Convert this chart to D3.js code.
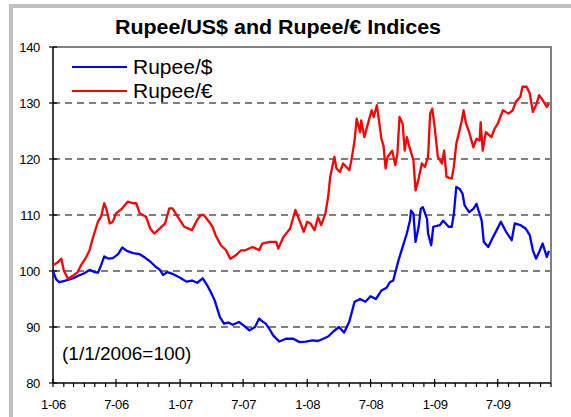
<!DOCTYPE html>
<html>
<head>
<meta charset="utf-8">
<script src="https://cdn.jsdelivr.net/npm/d3@7/dist/d3.min.js"></script>
<style>
  html, body { margin: 0; padding: 0; background: #fff; }
  svg { display: block; font-family: "Liberation Sans", Arial, sans-serif; }
</style>
</head>
<body>
<svg id="chart" width="571" height="417"></svg>
<script>
// Index values, 1 Jan 2006 = 100
const dollarDates = ["2006-01-01","2006-01-10","2006-01-19","2006-02-01","2006-02-13","2006-02-28","2006-03-16","2006-04-01","2006-04-16","2006-05-01","2006-05-10","2006-05-19","2006-05-28","2006-06-10","2006-06-22","2006-07-07","2006-07-19","2006-08-01","2006-08-19","2006-09-07","2006-09-22","2006-10-07","2006-10-22","2006-11-04","2006-11-13","2006-11-25","2006-12-10","2007-01-01","2007-01-19","2007-02-04","2007-02-19","2007-03-07","2007-03-22","2007-04-01","2007-04-10","2007-04-25","2007-05-07","2007-05-19","2007-06-01","2007-06-19","2007-07-04","2007-07-19","2007-08-04","2007-08-16","2007-08-25","2007-09-04","2007-09-16","2007-09-25","2007-10-13","2007-11-01","2007-11-22","2007-12-10","2007-12-28","2008-01-16","2008-02-01","2008-02-16","2008-03-01","2008-03-16","2008-04-01","2008-04-16","2008-05-01","2008-05-16","2008-06-01","2008-06-16","2008-07-01","2008-07-16","2008-08-01","2008-08-16","2008-08-25","2008-09-04","2008-09-19","2008-10-01","2008-10-13","2008-10-22","2008-10-25","2008-11-01","2008-11-07","2008-11-16","2008-11-22","2008-11-28","2008-12-10","2008-12-13","2008-12-22","2008-12-28","2009-01-16","2009-01-25","2009-02-10","2009-02-19","2009-02-25","2009-03-04","2009-03-13","2009-03-22","2009-03-28","2009-04-10","2009-04-22","2009-05-01","2009-05-10","2009-05-16","2009-05-22","2009-06-04","2009-06-13","2009-06-28","2009-07-10","2009-07-25","2009-08-10","2009-08-19","2009-09-04","2009-09-19","2009-10-01","2009-10-10","2009-10-19","2009-10-28","2009-11-07","2009-11-19","2009-11-25"];
const dollarValues = [100,98.5,98.0,98.2,98.4,98.7,99.2,99.6,100.2,99.8,99.7,101,102.6,102.2,102.3,103,104.2,103.6,103.2,103,102.4,101.7,100.8,100.2,99.3,99.8,99.5,98.8,98.1,98.3,97.9,98.7,97.2,96,94.8,91.8,90.6,90.8,90.4,90.9,90.2,89.4,90,91.5,91,90.6,89.5,88.5,87.4,87.9,87.9,87.3,87.4,87.6,87.5,87.9,88.3,89.2,90,89,91,94.5,95,94.5,95.5,95,96.5,97,98,98.3,101.9,104.3,106.7,109,110.8,110.2,105.2,107.9,111.1,111.4,109.3,106.7,104.6,107.9,108.2,109,107.9,107.9,110.2,115,114.7,113.8,111.7,110.5,111.1,112,110.2,109,105.2,104.3,105.5,107.3,108.8,107,105.5,108.5,108.2,107.6,106.4,103.7,102.2,103.4,104.9,102.5,103.6];

const euroDates = ["2006-01-01","2006-01-16","2006-01-25","2006-02-01","2006-02-13","2006-02-28","2006-03-13","2006-03-22","2006-04-04","2006-04-16","2006-04-25","2006-05-10","2006-05-19","2006-05-28","2006-06-04","2006-06-13","2006-06-22","2006-07-01","2006-07-19","2006-08-04","2006-08-19","2006-08-28","2006-09-07","2006-09-25","2006-10-07","2006-10-19","2006-11-04","2006-11-19","2006-12-01","2006-12-10","2006-12-25","2007-01-13","2007-02-04","2007-02-19","2007-03-01","2007-03-10","2007-03-25","2007-04-04","2007-04-13","2007-04-28","2007-05-13","2007-05-25","2007-06-10","2007-06-25","2007-07-07","2007-07-28","2007-08-16","2007-08-25","2007-09-16","2007-10-04","2007-10-10","2007-10-25","2007-11-13","2007-11-28","2007-12-13","2007-12-22","2008-01-01","2008-01-10","2008-01-22","2008-02-01","2008-02-10","2008-02-22","2008-03-01","2008-03-07","2008-03-13","2008-03-19","2008-03-25","2008-04-04","2008-04-13","2008-04-22","2008-05-01","2008-05-07","2008-05-16","2008-05-22","2008-06-01","2008-06-04","2008-06-13","2008-06-22","2008-07-04","2008-07-10","2008-07-19","2008-07-25","2008-08-01","2008-08-07","2008-08-13","2008-08-19","2008-09-01","2008-09-10","2008-09-16","2008-09-22","2008-10-01","2008-10-07","2008-10-13","2008-10-22","2008-11-01","2008-11-07","2008-11-16","2008-11-25","2008-12-04","2008-12-13","2008-12-19","2008-12-25","2009-01-01","2009-01-10","2009-01-22","2009-01-28","2009-02-04","2009-02-19","2009-02-25","2009-03-04","2009-03-19","2009-03-25","2009-04-01","2009-04-10","2009-04-22","2009-05-01","2009-05-10","2009-05-13","2009-05-19","2009-05-28","2009-06-13","2009-06-22","2009-07-01","2009-07-16","2009-08-01","2009-08-13","2009-08-22","2009-09-04","2009-09-10","2009-09-22","2009-10-01","2009-10-10","2009-10-19","2009-10-28","2009-11-07","2009-11-19","2009-11-25"];
const euroValues = [101,101.6,102.2,100.1,98.6,99.2,99.8,101,102.2,103.7,105.8,108.8,109.7,112.1,110.9,108.5,108.8,110.3,111.2,112.4,112.1,112.1,110.3,109.7,107.6,106.7,107.6,108.5,111.2,111.2,109.7,107.9,107.3,109.1,110,110,108.8,107.9,106.4,104.6,103.7,102.2,102.8,103.7,103.7,104.3,103.7,104.9,105.2,105.2,104,106.1,107.6,110.9,108.5,107,108.8,108.5,107.3,109.6,108.2,110.2,113.2,116.8,118.6,120.4,118.3,117.7,119.2,118.6,118,119.8,123.3,127.2,124.8,126.9,123.9,126,128.7,127.5,129.6,126.9,123.6,122.4,118.3,120.4,121.5,118.9,121,127.5,126.3,121.5,123.9,121.8,119.8,114.4,116.5,119.2,118.6,120.4,128.1,129,125.7,120.4,119.2,121.5,116.8,116.5,118.6,122.7,126.6,128.7,126.3,124.8,122.1,123.6,123.3,126.6,121.5,124.8,123.9,125.4,126.3,128.7,128.1,128.7,130.2,131.1,132.9,132.9,131.7,128.4,129.6,131.4,130.5,129.3,129.9];

const seriesNames = ["Rupee/$", "Rupee/€"];
const seriesColors = ["#0000ff", "#ff0000"];
const yTicks = [80, 90, 100, 110, 120, 130, 140];
const gridValues = [90, 100, 110, 120, 130];
const xLabelDates = ["2006-01-01","2006-07-01","2007-01-01","2007-07-01","2008-01-01","2008-07-01","2009-01-01","2009-07-01"];
const xLabels = ["1-06","7-06","1-07","7-07","1-08","7-08","1-09","7-09"];
const titleText = "Rupee/US$ and Rupee/€ Indices";
const noteText = "(1/1/2006=100)";

const parse = d3.timeParse("%Y-%m-%d");
const series = [
  dollarDates.map((d, i) => ({ date: parse(d), value: dollarValues[i] })),
  euroDates.map((d, i) => ({ date: parse(d), value: euroValues[i] }))
];

const svg = d3.select("#chart");
const plot = { left: 53, right: 551, top: 47, bottom: 383 };

const x = d3.scaleTime()
  .domain([parse("2006-01-01"), parse("2009-12-01")])
  .range([plot.left, plot.right]);
const y = d3.scaleLinear().domain([80, 140]).range([plot.bottom, plot.top]);

// Outer chart frame
svg.append("rect")
  .attr("x", 11).attr("y", 6).attr("width", 620).attr("height", 500)
  .attr("fill", "#fff").attr("stroke", "#c0c0c0").attr("stroke-width", 4);

// Title
svg.append("text")
  .attr("x", 278).attr("y", 34)
  .attr("text-anchor", "middle")
  .attr("font-size", 20).attr("font-weight", "bold")
  .attr("textLength", 326).attr("lengthAdjust", "spacingAndGlyphs")
  .text(titleText);

// Dashed horizontal gridlines
svg.append("g").selectAll("line").data(gridValues).join("line")
  .attr("x1", plot.left).attr("x2", plot.right)
  .attr("y1", d => y(d)).attr("y2", d => y(d))
  .attr("stroke", "#555").attr("stroke-width", 1.5)
  .attr("stroke-dasharray", "7,5");

// Plot border: top and right in gray
svg.append("path")
  .attr("d", `M${plot.left},${plot.top}H${plot.right}V${plot.bottom}`)
  .attr("fill", "none").attr("stroke", "#808080").attr("stroke-width", 2);

// Y axis
const yAxis = d3.axisLeft(y).tickValues(yTicks).tickSize(0).tickPadding(13);
const gy = svg.append("g").attr("transform", `translate(${plot.left},0)`).call(yAxis);
gy.select(".domain").remove();
gy.selectAll("text").attr("font-size", 13).attr("font-family", "Liberation Sans, Arial, sans-serif")
  .attr("fill", "#000").attr("letter-spacing", -0.3);
svg.append("g").selectAll("line").data(yTicks).join("line")
  .attr("x1", plot.left - 4).attr("x2", plot.left + 4)
  .attr("y1", d => y(d)).attr("y2", d => y(d))
  .attr("stroke", "#000").attr("stroke-width", 1.2);
svg.append("line")
  .attr("x1", plot.left).attr("x2", plot.left)
  .attr("y1", plot.top).attr("y2", plot.bottom)
  .attr("stroke", "#000").attr("stroke-width", 1.5);

// X axis: monthly minor ticks, half-year major ticks
const months = d3.timeMonth.range(parse("2006-01-01"), parse("2009-12-02"));
svg.append("g").selectAll("line").data(months).join("line")
  .attr("x1", d => x(d)).attr("x2", d => x(d))
  .attr("y1", d => (d.getMonth() % 6 === 0) ? plot.bottom - 4 : plot.bottom)
  .attr("y2", plot.bottom + 4)
  .attr("stroke", "#000").attr("stroke-width", 1.2);
svg.append("line")
  .attr("x1", plot.left).attr("x2", plot.right)
  .attr("y1", plot.bottom).attr("y2", plot.bottom)
  .attr("stroke", "#000").attr("stroke-width", 1.5);
const xAxis = d3.axisBottom(x)
  .tickValues(xLabelDates.map(parse))
  .tickFormat((d, i) => xLabels[i])
  .tickSize(0).tickPadding(17);
const gx = svg.append("g").attr("transform", `translate(0,${plot.bottom})`).call(xAxis);
gx.select(".domain").remove();
gx.selectAll("text").attr("font-size", 13).attr("font-family", "Liberation Sans, Arial, sans-serif")
  .attr("fill", "#000").attr("letter-spacing", -0.3);

// Index lines
const line = d3.line().x(d => x(d.date)).y(d => y(d.value));
svg.append("g").selectAll("path").data(series).join("path")
  .attr("d", line)
  .attr("fill", "none")
  .attr("stroke", (d, i) => seriesColors[i])
  .attr("stroke-width", 2.3)
  .attr("stroke-linejoin", "round");

// Legend
const legend = svg.append("g");
seriesNames.forEach((name, i) => {
  const ly = 67 + i * 24;
  legend.append("line")
    .attr("x1", 72).attr("x2", 127).attr("y1", ly).attr("y2", ly)
    .attr("stroke", seriesColors[i]).attr("stroke-width", 2);
  legend.append("text")
    .attr("x", 133).attr("y", ly + 7)
    .attr("font-size", 21)
    .text(name);
});

// Base-date note
svg.append("text")
  .attr("x", 62).attr("y", 360)
  .attr("font-size", 19)
  .text(noteText);
</script>
</body>
</html>
